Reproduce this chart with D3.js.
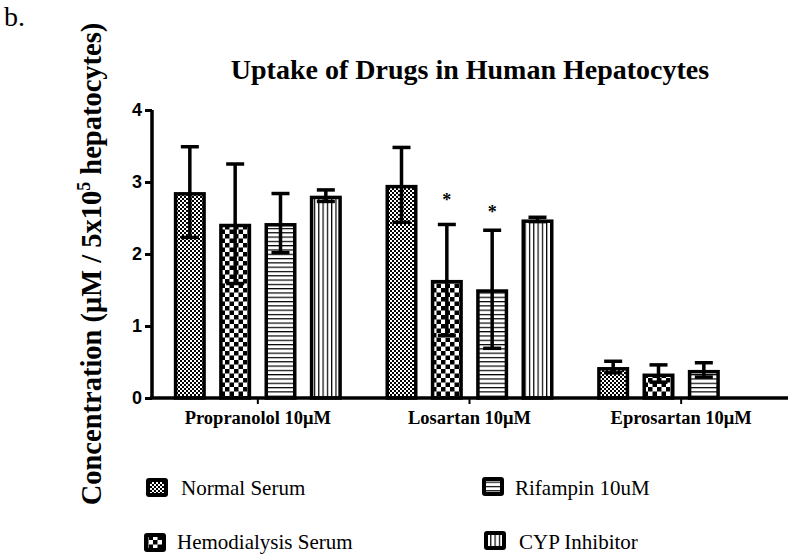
<!DOCTYPE html>
<html>
<head>
<meta charset="utf-8">
<script src="https://cdn.jsdelivr.net/npm/d3@7"></script>
<style>
  html, body { margin: 0; padding: 0; background: #fff; }
  svg { display: block; }
</style>
</head>
<body>
<svg id="chart" width="793" height="558"></svg>
<script>
// ---- Data ----
const categories = ["Propranolol 10\u03bcM", "Losartan 10\u03bcM", "Eprosartan 10\u03bcM"];
const seriesNames = ["Normal Serum", "Hemodialysis Serum", "Rifampin 10uM", "CYP Inhibitor"];
const normalSerum = [2.86, 2.96, 0.43];
const normalSerumErr = [0.63, 0.52, 0.08];
const hemodialysisSerum = [2.42, 1.64, 0.34];
const hemodialysisSerumErr = [0.83, 0.77, 0.12];
const rifampin = [2.43, 1.51, 0.39];
const rifampinErr = [0.41, 0.82, 0.10];
const cypInhibitor = [2.81, 2.48, null];
const cypInhibitorErr = [0.08, 0.03, null];
// significance markers ("*"), given as the value level where each star sits
const starLevels = [[null, null, null], [null, 2.81, null], [null, 2.64, null], [null, null, null]];
const yTicks = [0, 1, 2, 3, 4];

const values = [normalSerum, hemodialysisSerum, rifampin, cypInhibitor];
const errors = [normalSerumErr, hemodialysisSerumErr, rifampinErr, cypInhibitorErr];

const svg = d3.select("#chart");
const serif = "'Liberation Serif', 'Times New Roman', serif";
const sans = "'Liberation Sans', Arial, sans-serif";

// ---- Patterns ----
const defs = svg.append("defs");
let p = defs.append("pattern").attr("id", "pNormal").attr("patternUnits", "userSpaceOnUse")
  .attr("width", 4).attr("height", 4);
p.append("rect").attr("width", 4).attr("height", 4).attr("fill", "#fff");
p.append("rect").attr("width", 2).attr("height", 2).attr("fill", "#000");
p.append("rect").attr("x", 2).attr("y", 2).attr("width", 2).attr("height", 2).attr("fill", "#000");
p = defs.append("pattern").attr("id", "pHemo").attr("patternUnits", "userSpaceOnUse")
  .attr("width", 9).attr("height", 9);
p.append("rect").attr("width", 9).attr("height", 9).attr("fill", "#fff");
p.append("rect").attr("width", 4.5).attr("height", 4.5).attr("fill", "#000");
p.append("rect").attr("x", 4.5).attr("y", 4.5).attr("width", 4.5).attr("height", 4.5).attr("fill", "#000");
p = defs.append("pattern").attr("id", "pRif").attr("patternUnits", "userSpaceOnUse")
  .attr("width", 4).attr("height", 4.3);
p.append("rect").attr("width", 4).attr("height", 4.3).attr("fill", "#fff");
p.append("rect").attr("y", 0).attr("width", 4).attr("height", 1.2).attr("fill", "#000");
p = defs.append("pattern").attr("id", "pCyp").attr("patternUnits", "userSpaceOnUse")
  .attr("width", 4.3).attr("height", 4);
p.append("rect").attr("width", 4.3).attr("height", 4).attr("fill", "#fff");
p.append("rect").attr("x", 0).attr("width", 1.2).attr("height", 4).attr("fill", "#000");
const patternIds = ["pNormal", "pHemo", "pRif", "pCyp"];

// ---- Scales ----
const y = d3.scaleLinear().domain([0, 4]).range([398, 110]);
const x0 = d3.scaleBand().domain(categories).range([152, 787]).padding(0);
const x1 = d3.scaleBand().domain(seriesNames).range([-84, 84]).paddingInner(0.294).paddingOuter(0);
const sw = 3.5;

// ---- Bars ----
const rows = [];
categories.forEach((c, ci) => {
  seriesNames.forEach((s, si) => {
    const v = values[si][ci];
    if (v == null) return;
    rows.push({ c, s, si, ci, v, e: errors[si][ci], star: starLevels[si][ci] });
  });
});
const cx = d => x0(d.c) + x0.bandwidth() / 2 + x1(d.s);

svg.append("g").selectAll("rect").data(rows).join("rect")
  .attr("x", d => cx(d) + sw / 2)
  .attr("y", d => y(d.v) + sw / 2)
  .attr("width", x1.bandwidth() - sw)
  .attr("height", d => y(0) - y(d.v) - sw / 2)
  .attr("fill", d => `url(#${patternIds[d.si]})`)
  .attr("stroke", "#000")
  .attr("stroke-width", sw);

// ---- Error bars ----
const eg = svg.append("g").attr("stroke", "#000").attr("stroke-width", 3.5);
rows.forEach(d => {
  const mx = cx(d) + x1.bandwidth() / 2;
  const top = y(d.v + d.e), bot = y(Math.max(0, d.v - d.e));
  eg.append("line").attr("x1", mx).attr("x2", mx).attr("y1", top).attr("y2", bot);
  eg.append("line").attr("x1", mx - 9).attr("x2", mx + 9).attr("y1", top).attr("y2", top);
  eg.append("line").attr("x1", mx - 9).attr("x2", mx + 9).attr("y1", bot).attr("y2", bot);
  if (d.star != null) {
    svg.append("text").attr("x", mx).attr("y", y(d.star) + 10)
      .attr("text-anchor", "middle").attr("font-family", serif).attr("font-weight", "bold")
      .attr("font-size", 18).text("*");
  }
});

// ---- Axes ----
const yAxis = svg.append("g").attr("transform", "translate(152,0)")
  .call(d3.axisLeft(y).tickValues(yTicks).tickFormat(d3.format("d")).tickSize(7).tickPadding(3));
yAxis.select(".domain").attr("stroke-width", 3.5).attr("d", `M0,${y(4)}V${y(0)}`);
yAxis.selectAll(".tick line").attr("stroke-width", 3);
yAxis.selectAll(".tick text").attr("font-family", sans).attr("font-weight", "bold")
  .attr("font-size", 18).attr("fill", "#000");

const xAxis = svg.append("g").attr("transform", `translate(0,${y(0)})`)
  .call(d3.axisBottom(x0).tickSize(6).tickPadding(7));
xAxis.select(".domain").attr("stroke-width", 3.5).attr("d", `M150,0H788`);
xAxis.selectAll(".tick line").attr("stroke-width", 2);
xAxis.selectAll(".tick text").attr("font-family", serif).attr("font-weight", "bold")
  .attr("font-size", 18.5).attr("fill", "#000");

// ---- Titles ----
svg.append("text").attr("x", 470).attr("y", 79).attr("text-anchor", "middle")
  .attr("font-family", serif).attr("font-weight", "bold").attr("font-size", 28)
  .attr("fill", "#000").text("Uptake of Drugs in Human Hepatocytes");

const yl = svg.append("text").attr("transform", "translate(101,264) rotate(-90)")
  .attr("text-anchor", "middle").attr("font-family", serif).attr("font-weight", "bold")
  .attr("font-size", 28.5).attr("fill", "#000");
yl.append("tspan").text("Concentration (\u03bcM / 5x10");
yl.append("tspan").attr("font-size", 18).attr("dy", -11).text("5");
yl.append("tspan").attr("dy", 11).text(" hepatocytes)");

svg.append("text").attr("x", 4).attr("y", 26).attr("font-family", serif)
  .attr("font-size", 28).attr("fill", "#000").text("b.");

// ---- Legend ----
const legendPos = [
  { x: 146, y: 478, tx: 181, ty: 495 },
  { x: 144, y: 533, tx: 177, ty: 549 },
  { x: 482, y: 477, tx: 515, ty: 495 },
  { x: 484, y: 531, tx: 519, ty: 549 }
];
seriesNames.forEach((s, i) => {
  const g = svg.append("g");
  const L = legendPos[i];
  g.append("rect").attr("x", L.x).attr("y", L.y).attr("width", 22).attr("height", 19)
    .attr("rx", 3).attr("fill", "#000");
  g.append("rect").attr("x", L.x + 4).attr("y", L.y + 4).attr("width", 14).attr("height", 11)
    .attr("fill", `url(#${patternIds[i]})`);
  g.append("text").attr("x", L.tx).attr("y", L.ty).attr("font-family", serif)
    .attr("font-size", 21).attr("fill", "#000").text(s);
});
</script>
</body>
</html>
